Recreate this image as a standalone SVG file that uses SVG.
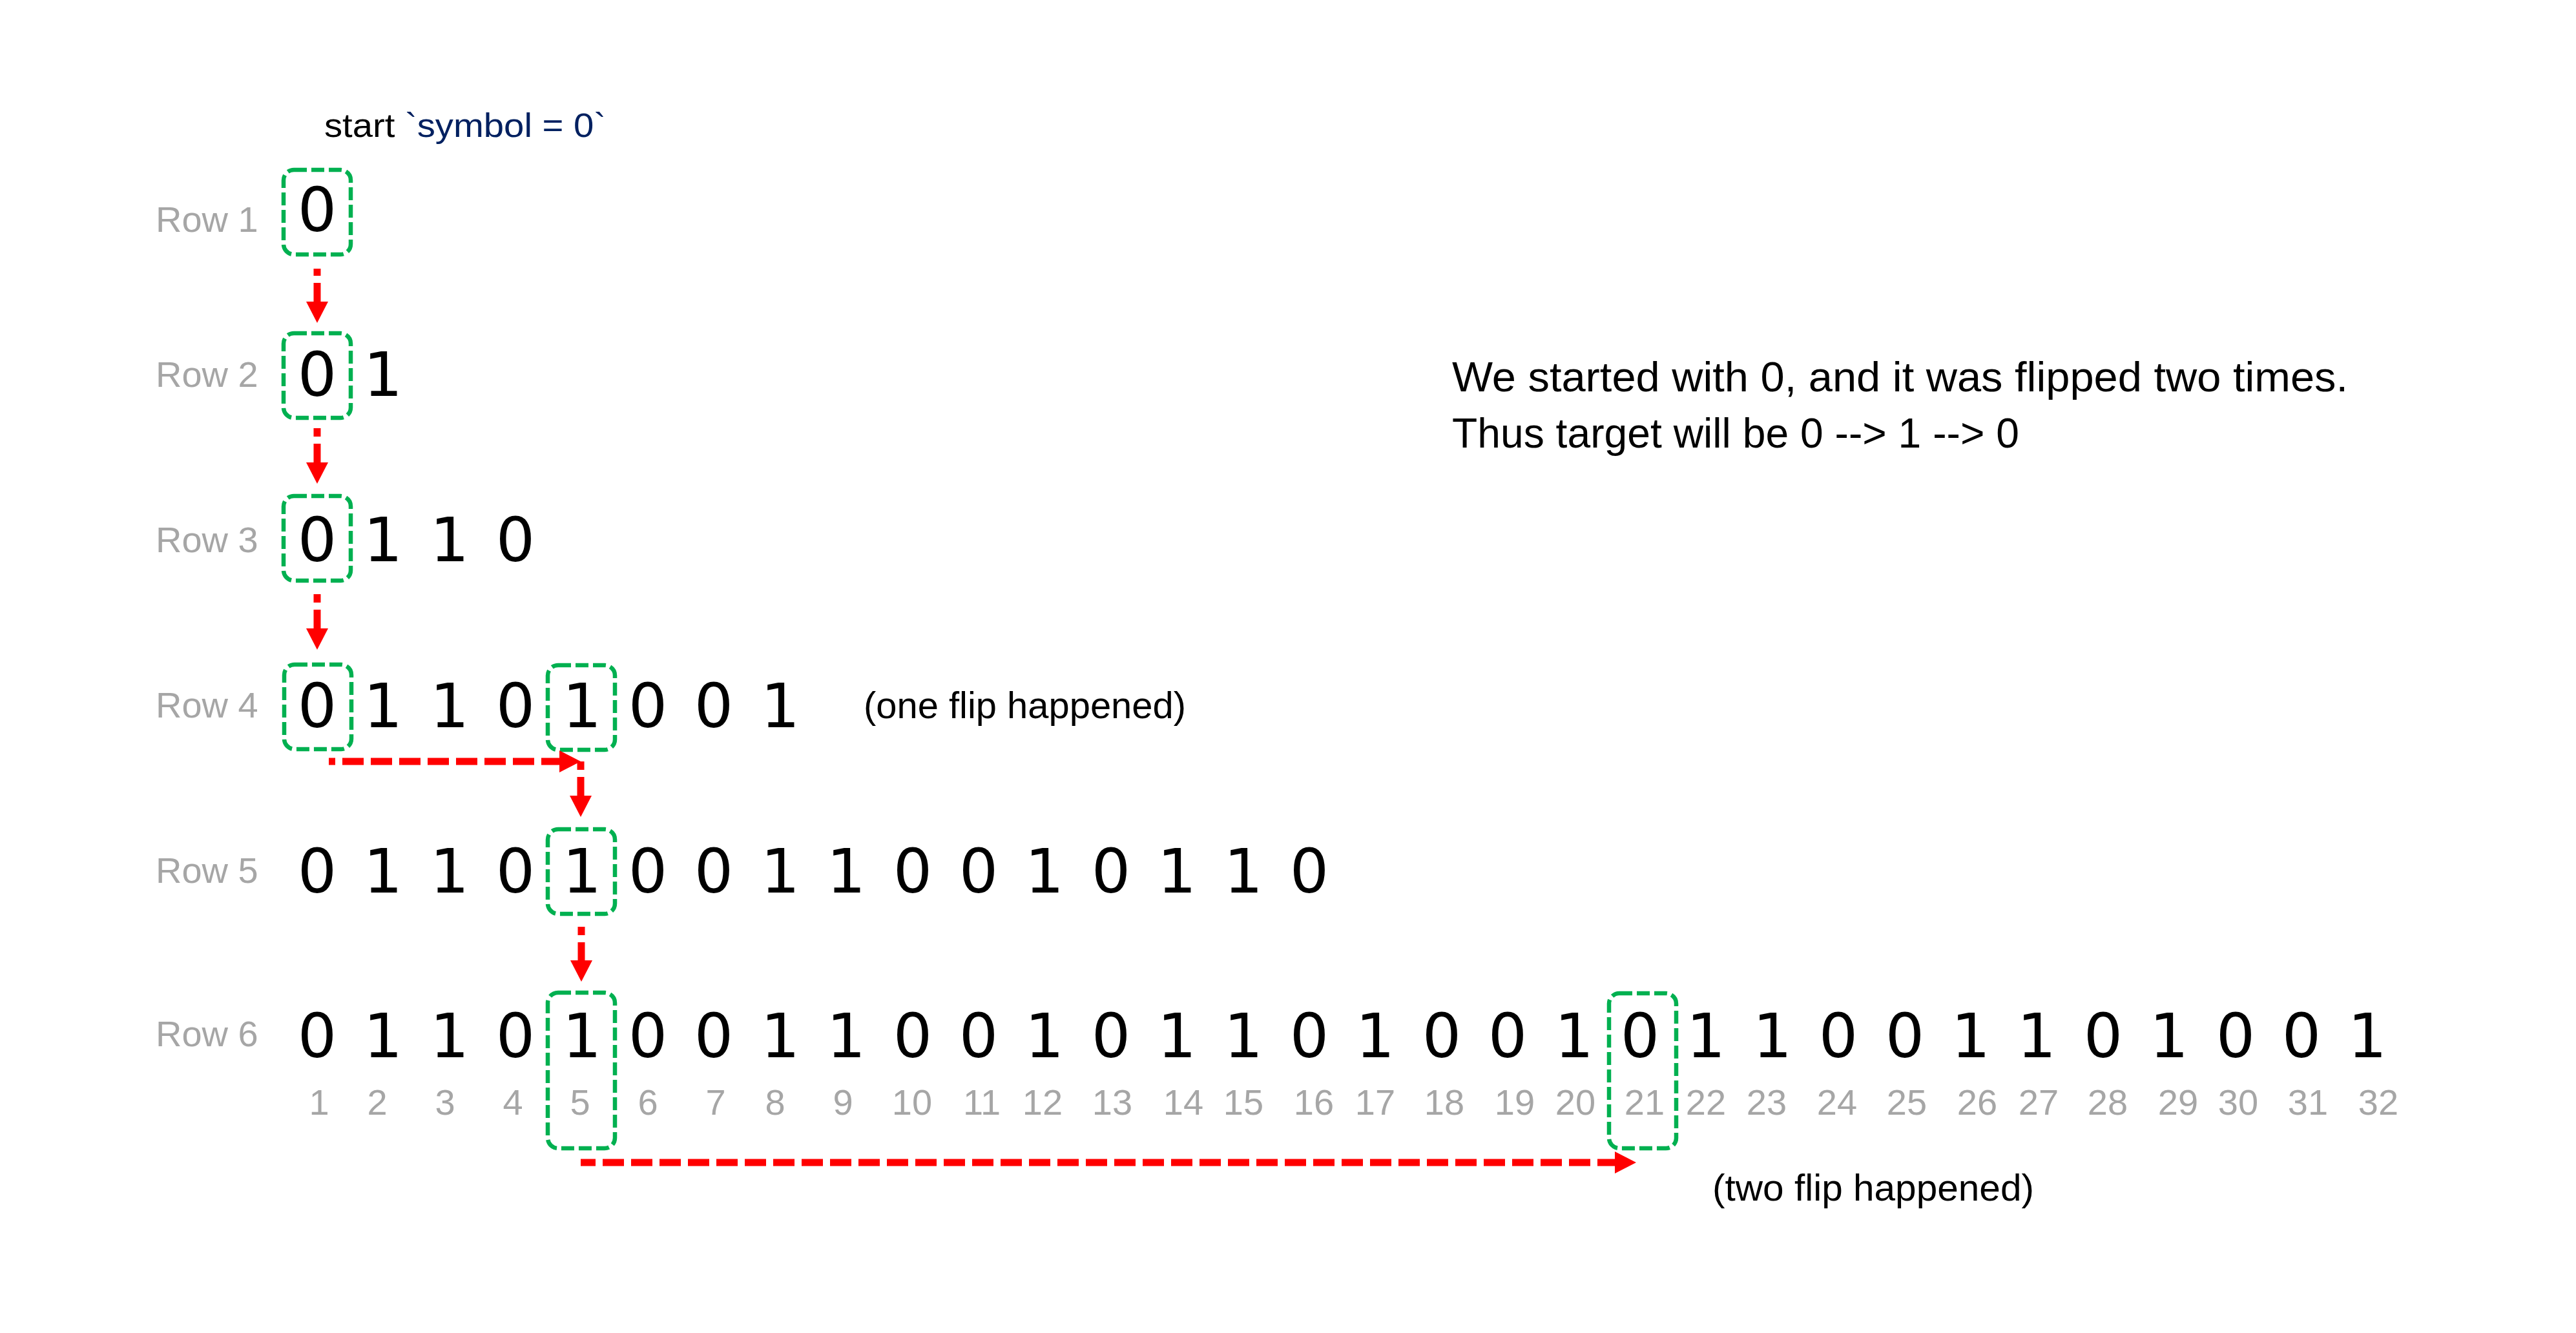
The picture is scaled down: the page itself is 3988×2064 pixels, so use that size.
<svg xmlns="http://www.w3.org/2000/svg" width="3988" height="2064" viewBox="0 0 3988 2064">
<defs>
<style>
text{font-family:"Liberation Sans",Arial,sans-serif}
.lbl{font-size:56px;fill:#A6A6A6}
.idx{font-size:56px;fill:#A6A6A6;text-anchor:middle}
.d{font-family:"DejaVu Sans","Liberation Sans",sans-serif;font-size:95px;fill:#000;text-anchor:middle}
.note{font-size:58px;fill:#000}
.para{font-size:64px;fill:#000}
.box{fill:none;stroke:#00B050;stroke-width:6.5;stroke-dasharray:20 7}
.arr{fill:none;stroke:#FF0000;stroke-width:11;stroke-dasharray:33 11;marker-end:url(#ah)}
</style>
<marker id="ah" markerUnits="userSpaceOnUse" markerWidth="33" markerHeight="34" refX="0" refY="17" orient="auto" viewBox="0 0 33 34">
<path d="M0,0 L33,17 L0,34 Z" fill="#FF0000"/>
</marker>
</defs>
<rect width="3988" height="2064" fill="#FFFFFF"/>

<g id="title">
<text x="502" y="212" font-size="52" textLength="436" lengthAdjust="spacingAndGlyphs">start <tspan fill="#002060">`symbol = 0`</tspan></text>
</g>

<g id="row-labels">
<text class="lbl" x="241" y="359">Row 1</text>
<text class="lbl" x="241" y="599">Row 2</text>
<text class="lbl" x="241" y="855">Row 3</text>
<text class="lbl" x="241" y="1111">Row 4</text>
<text class="lbl" x="241" y="1367">Row 5</text>
<text class="lbl" x="241" y="1620">Row 6</text>
</g>

<g id="row1">
<text class="d" x="491" y="358">0</text>
</g>
<g id="row2">
<text class="d" x="491" y="613">0</text><text class="d" x="593" y="613">1</text>
</g>
<g id="row3">
<text class="d" x="491" y="869">0</text><text class="d" x="593" y="869">1</text><text class="d" x="696" y="869">1</text><text class="d" x="798" y="869">0</text>
</g>
<g id="row4">
<text class="d" x="491" y="1126">0</text><text class="d" x="593" y="1126">1</text><text class="d" x="696" y="1126">1</text><text class="d" x="798" y="1126">0</text><text class="d" x="901" y="1126">1</text><text class="d" x="1003" y="1126">0</text><text class="d" x="1105" y="1126">0</text><text class="d" x="1208" y="1126">1</text>
</g>
<g id="row5">
<text class="d" x="491" y="1382">0</text><text class="d" x="593" y="1382">1</text><text class="d" x="696" y="1382">1</text><text class="d" x="798" y="1382">0</text><text class="d" x="901" y="1382">1</text><text class="d" x="1003" y="1382">0</text><text class="d" x="1105" y="1382">0</text><text class="d" x="1208" y="1382">1</text><text class="d" x="1310" y="1382">1</text><text class="d" x="1413" y="1382">0</text><text class="d" x="1515" y="1382">0</text><text class="d" x="1617" y="1382">1</text><text class="d" x="1720" y="1382">0</text><text class="d" x="1822" y="1382">1</text><text class="d" x="1925" y="1382">1</text><text class="d" x="2027" y="1382">0</text>
</g>
<g id="row6">
<text class="d" x="491" y="1637">0</text><text class="d" x="593" y="1637">1</text><text class="d" x="696" y="1637">1</text><text class="d" x="798" y="1637">0</text><text class="d" x="901" y="1637">1</text><text class="d" x="1003" y="1637">0</text><text class="d" x="1105" y="1637">0</text><text class="d" x="1208" y="1637">1</text><text class="d" x="1310" y="1637">1</text><text class="d" x="1413" y="1637">0</text><text class="d" x="1515" y="1637">0</text><text class="d" x="1617" y="1637">1</text><text class="d" x="1720" y="1637">0</text><text class="d" x="1822" y="1637">1</text><text class="d" x="1925" y="1637">1</text><text class="d" x="2027" y="1637">0</text><text class="d" x="2129" y="1637">1</text><text class="d" x="2232" y="1637">0</text><text class="d" x="2334" y="1637">0</text><text class="d" x="2437" y="1637">1</text><text class="d" x="2539" y="1637">0</text><text class="d" x="2641" y="1637">1</text><text class="d" x="2744" y="1637">1</text><text class="d" x="2846" y="1637">0</text><text class="d" x="2949" y="1637">0</text><text class="d" x="3051" y="1637">1</text><text class="d" x="3153" y="1637">1</text><text class="d" x="3256" y="1637">0</text><text class="d" x="3358" y="1637">1</text><text class="d" x="3461" y="1637">0</text><text class="d" x="3563" y="1637">0</text><text class="d" x="3665" y="1637">1</text>
</g>

<g id="indices">
<text class="idx" x="494" y="1726">1</text><text class="idx" x="584" y="1726">2</text><text class="idx" x="689" y="1726">3</text><text class="idx" x="794" y="1726">4</text><text class="idx" x="898" y="1726">5</text><text class="idx" x="1003" y="1726">6</text><text class="idx" x="1108" y="1726">7</text><text class="idx" x="1200" y="1726">8</text><text class="idx" x="1305" y="1726">9</text><text class="idx" x="1412" y="1726">10</text><text class="idx" x="1520" y="1726">11</text><text class="idx" x="1614" y="1726">12</text><text class="idx" x="1722" y="1726">13</text><text class="idx" x="1832" y="1726">14</text><text class="idx" x="1925" y="1726">15</text><text class="idx" x="2034" y="1726">16</text><text class="idx" x="2129" y="1726">17</text><text class="idx" x="2236" y="1726">18</text><text class="idx" x="2345" y="1726">19</text><text class="idx" x="2439" y="1726">20</text><text class="idx" x="2546" y="1726">21</text><text class="idx" x="2641" y="1726">22</text><text class="idx" x="2735" y="1726">23</text><text class="idx" x="2844" y="1726">24</text><text class="idx" x="2952" y="1726">25</text><text class="idx" x="3061" y="1726">26</text><text class="idx" x="3156" y="1726">27</text><text class="idx" x="3263" y="1726">28</text><text class="idx" x="3372" y="1726">29</text><text class="idx" x="3465" y="1726">30</text><text class="idx" x="3573" y="1726">31</text><text class="idx" x="3682" y="1726">32</text>
</g>

<g id="box-r1c1"><rect class="box" x="439" y="263" width="104" height="131" rx="16"/></g>
<g id="box-r2c1"><rect class="box" x="439" y="516" width="104" height="131" rx="16"/></g>
<g id="box-r3c1"><rect class="box" x="439" y="768" width="104" height="131" rx="16"/></g>
<g id="box-r4c1"><rect class="box" x="440" y="1029" width="104" height="131" rx="16"/></g>
<g id="box-r4c5"><rect class="box" x="848" y="1030" width="104" height="131" rx="16"/></g>
<g id="box-r5c5"><rect class="box" x="848" y="1284" width="104" height="131" rx="16"/></g>
<g id="box-r6c5"><rect class="box" x="848" y="1537" width="104" height="241" rx="16"/></g>
<g id="box-r6c21"><rect class="box" x="2491" y="1538" width="104" height="240" rx="16"/></g>

<g id="connectors">
<line class="arr" x1="491" y1="416" x2="491" y2="467" stroke-dashoffset="22"/>
<line class="arr" x1="491" y1="663" x2="491" y2="716" stroke-dashoffset="20"/>
<line class="arr" x1="491" y1="920" x2="491" y2="973" stroke-dashoffset="20"/>
<line class="arr" x1="509" y1="1179" x2="866" y2="1179" stroke-dashoffset="23"/>
<line class="arr" x1="899" y1="1179" x2="899" y2="1232" stroke-dashoffset="20"/>
<line class="arr" x1="900" y1="1435" x2="900" y2="1487" stroke-dashoffset="20"/>
<line class="arr" x1="899" y1="1800" x2="2500" y2="1800" stroke-dashoffset="10"/>
</g>

<g id="notes">
<text class="note" x="1337" y="1112" textLength="499" lengthAdjust="spacingAndGlyphs">(one flip happened)</text>
<text class="note" x="2651" y="1859" textLength="498" lengthAdjust="spacingAndGlyphs">(two flip happened)</text>
</g>

<g id="explanation">
<text class="para" x="2248" y="606" textLength="1387" lengthAdjust="spacingAndGlyphs">We started with 0, and it was flipped two times.</text>
<text class="para" x="2248" y="693" textLength="878" lengthAdjust="spacingAndGlyphs">Thus target will be 0 --&gt; 1 --&gt; 0</text>
</g>
</svg>
